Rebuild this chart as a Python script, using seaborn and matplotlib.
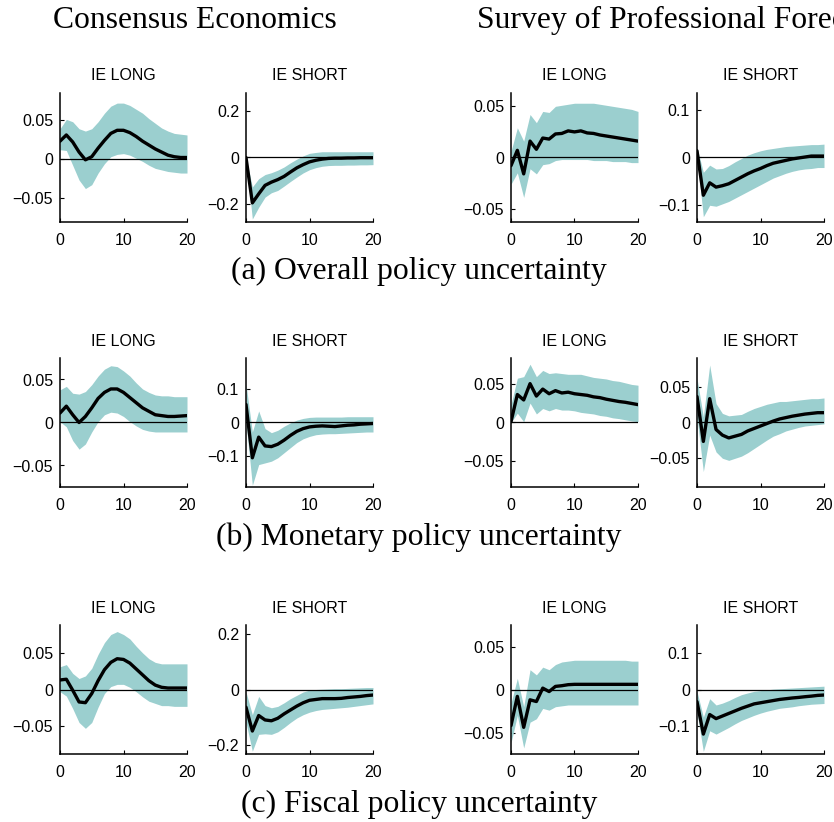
import matplotlib
matplotlib.use("Agg")
import matplotlib.pyplot as plt
import seaborn as sns
import pandas as pd

# ---------------- data ----------------
horizon = list(range(21))
panel_titles = ["IE LONG", "IE SHORT", "IE LONG", "IE SHORT"]
header_labels = ["Consensus Economics", "Survey of Professional Forecasters"]
row_captions = ["(a) Overall policy uncertainty",
                "(b) Monetary policy uncertainty",
                "(c) Fiscal policy uncertainty"]
x_ticks = [0, 10, 20]

# (a) Overall policy uncertainty
a_ce_long_mid = [0.023, 0.031, 0.022, 0.009, -0.001, 0.003, 0.014, 0.024, 0.033, 0.037, 0.037, 0.034, 0.029, 0.023, 0.018, 0.013, 0.009, 0.005, 0.003, 0.002, 0.002]
a_ce_long_hi = [0.039, 0.051, 0.048, 0.039, 0.036, 0.039, 0.048, 0.059, 0.068, 0.072, 0.072, 0.069, 0.064, 0.059, 0.052, 0.046, 0.040, 0.036, 0.033, 0.032, 0.031]
a_ce_long_lo = [0.012, 0.011, -0.008, -0.027, -0.038, -0.033, -0.018, -0.006, 0.003, 0.006, 0.007, 0.005, 0.001, -0.003, -0.008, -0.012, -0.014, -0.016, -0.017, -0.018, -0.018]

a_ce_short_mid = [0.0, -0.197, -0.158, -0.121, -0.107, -0.096, -0.082, -0.063, -0.045, -0.031, -0.019, -0.012, -0.007, -0.004, -0.003, -0.003, -0.002, -0.002, -0.001, -0.001, -0.001]
a_ce_short_hi = [0.0, -0.128, -0.092, -0.074, -0.066, -0.055, -0.041, -0.023, -0.007, 0.007, 0.018, 0.022, 0.025, 0.025, 0.025, 0.025, 0.025, 0.025, 0.025, 0.025, 0.025]
a_ce_short_lo = [-0.004, -0.267, -0.216, -0.172, -0.153, -0.143, -0.124, -0.104, -0.085, -0.067, -0.053, -0.044, -0.038, -0.035, -0.034, -0.034, -0.033, -0.033, -0.032, -0.032, -0.031]

a_spf_long_mid = [-0.008, 0.007, -0.016, 0.016, 0.008, 0.019, 0.018, 0.023, 0.0235, 0.026, 0.025, 0.026, 0.024, 0.0235, 0.022, 0.021, 0.020, 0.019, 0.018, 0.017, 0.016]
a_spf_long_hi = [0.006, 0.029, 0.016, 0.042, 0.034, 0.045, 0.044, 0.050, 0.051, 0.052, 0.053, 0.053, 0.053, 0.053, 0.052, 0.051, 0.050, 0.049, 0.048, 0.047, 0.045]
a_spf_long_lo = [-0.026, -0.015, -0.039, -0.011, -0.016, -0.007, -0.006, -0.003, -0.002, -0.002, -0.002, -0.002, -0.002, -0.003, -0.003, -0.003, -0.004, -0.004, -0.004, -0.005, -0.005]

a_spf_short_mid = [0.014, -0.079, -0.053, -0.062, -0.059, -0.055, -0.048, -0.041, -0.034, -0.028, -0.023, -0.017, -0.012, -0.009, -0.006, -0.003, -0.001, 0.001, 0.003, 0.003, 0.003]
a_spf_short_hi = [0.021, -0.031, -0.016, -0.024, -0.023, -0.017, -0.009, -0.002, 0.005, 0.010, 0.014, 0.017, 0.019, 0.021, 0.023, 0.024, 0.025, 0.026, 0.027, 0.027, 0.028]
a_spf_short_lo = [0.0, -0.124, -0.100, -0.102, -0.097, -0.092, -0.085, -0.078, -0.071, -0.064, -0.057, -0.050, -0.043, -0.038, -0.033, -0.029, -0.026, -0.024, -0.023, -0.021, -0.021]

# (b) Monetary policy uncertainty
b_ce_long_mid = [0.011, 0.019, 0.009, 0.0, 0.007, 0.017, 0.028, 0.035, 0.039, 0.039, 0.035, 0.029, 0.023, 0.017, 0.013, 0.009, 0.008, 0.007, 0.007, 0.0075, 0.008]
b_ce_long_hi = [0.038, 0.042, 0.034, 0.033, 0.036, 0.044, 0.054, 0.062, 0.066, 0.065, 0.060, 0.054, 0.046, 0.039, 0.035, 0.032, 0.031, 0.031, 0.030, 0.030, 0.030]
b_ce_long_lo = [0.001, -0.005, -0.021, -0.031, -0.025, -0.011, 0.001, 0.009, 0.012, 0.011, 0.007, 0.001, -0.004, -0.008, -0.010, -0.011, -0.011, -0.011, -0.011, -0.011, -0.011]

b_ce_short_mid = [0.053, -0.104, -0.043, -0.069, -0.071, -0.064, -0.052, -0.038, -0.026, -0.018, -0.013, -0.011, -0.010, -0.011, -0.012, -0.010, -0.008, -0.007, -0.005, -0.004, -0.003]
b_ce_short_hi = [0.113, -0.028, 0.034, -0.018, -0.030, -0.023, -0.011, -0.001, 0.007, 0.012, 0.015, 0.016, 0.016, 0.016, 0.016, 0.016, 0.017, 0.017, 0.017, 0.017, 0.017]
b_ce_short_lo = [0.002, -0.185, -0.124, -0.119, -0.114, -0.104, -0.089, -0.074, -0.059, -0.048, -0.041, -0.036, -0.034, -0.033, -0.033, -0.032, -0.031, -0.030, -0.029, -0.028, -0.028]

b_spf_long_mid = [0.001, 0.036, 0.029, 0.050, 0.034, 0.043, 0.037, 0.041, 0.038, 0.039, 0.037, 0.036, 0.035, 0.033, 0.032, 0.030, 0.0285, 0.027, 0.026, 0.0245, 0.023]
b_spf_long_hi = [0.023, 0.057, 0.059, 0.075, 0.059, 0.067, 0.063, 0.064, 0.063, 0.062, 0.062, 0.062, 0.060, 0.058, 0.057, 0.056, 0.054, 0.053, 0.051, 0.049, 0.048]
b_spf_long_lo = [0.0, 0.012, 0.001, 0.025, 0.011, 0.018, 0.015, 0.018, 0.016, 0.016, 0.015, 0.013, 0.012, 0.011, 0.009, 0.008, 0.006, 0.005, 0.0035, 0.002, 0.001]

b_spf_short_mid = [0.037, -0.027, 0.034, -0.010, -0.018, -0.022, -0.0195, -0.017, -0.012, -0.0085, -0.005, -0.0015, 0.002, 0.005, 0.007, 0.009, 0.0105, 0.012, 0.013, 0.014, 0.014]
b_spf_short_hi = [0.063, 0.008, 0.082, 0.027, 0.013, 0.0095, 0.0105, 0.0115, 0.016, 0.020, 0.023, 0.026, 0.028, 0.030, 0.030, 0.031, 0.032, 0.033, 0.034, 0.034, 0.035]
b_spf_short_lo = [0.008, -0.070, -0.018, -0.042, -0.051, -0.054, -0.051, -0.048, -0.043, -0.037, -0.031, -0.025, -0.0195, -0.016, -0.012, -0.0095, -0.007, -0.005, -0.004, -0.003, -0.002]

# (c) Fiscal policy uncertainty
c_ce_long_mid = [0.013, 0.014, -0.001, -0.017, -0.018, -0.0055, 0.012, 0.027, 0.037, 0.042, 0.041, 0.036, 0.028, 0.020, 0.012, 0.006, 0.003, 0.002, 0.002, 0.002, 0.002]
c_ce_long_hi = [0.031, 0.034, 0.022, 0.015, 0.0185, 0.029, 0.048, 0.064, 0.075, 0.079, 0.075, 0.069, 0.059, 0.050, 0.042, 0.037, 0.035, 0.035, 0.035, 0.035, 0.035]
c_ce_long_lo = [-0.003, -0.009, -0.026, -0.045, -0.053, -0.045, -0.024, -0.0055, 0.004, 0.007, 0.007, 0.003, -0.003, -0.010, -0.016, -0.019, -0.022, -0.022, -0.023, -0.023, -0.023]

c_ce_short_mid = [-0.064, -0.150, -0.094, -0.110, -0.113, -0.104, -0.088, -0.074, -0.060, -0.048, -0.039, -0.036, -0.033, -0.033, -0.033, -0.032, -0.029, -0.027, -0.025, -0.022, -0.020]
c_ce_short_hi = [-0.009, -0.091, -0.025, -0.058, -0.066, -0.061, -0.048, -0.033, -0.021, -0.009, -0.002, 0.0, 0.001, 0.002, 0.003, 0.003, 0.004, 0.005, 0.006, 0.007, 0.007]
c_ce_short_lo = [-0.119, -0.223, -0.162, -0.160, -0.162, -0.153, -0.137, -0.119, -0.103, -0.091, -0.082, -0.076, -0.072, -0.070, -0.068, -0.066, -0.064, -0.061, -0.058, -0.055, -0.052]

c_spf_long_mid = [-0.042, -0.008, -0.044, -0.012, -0.014, 0.0016, -0.0024, 0.0036, 0.0044, 0.0056, 0.006, 0.006, 0.006, 0.006, 0.006, 0.006, 0.006, 0.006, 0.006, 0.006, 0.006]
c_spf_long_hi = [-0.016, 0.013, -0.020, 0.023, 0.017, 0.026, 0.023, 0.029, 0.032, 0.033, 0.034, 0.034, 0.034, 0.034, 0.034, 0.034, 0.034, 0.034, 0.034, 0.033, 0.033]
c_spf_long_lo = [-0.062, -0.030, -0.068, -0.038, -0.034, -0.022, -0.024, -0.020, -0.019, -0.018, -0.018, -0.018, -0.018, -0.018, -0.018, -0.018, -0.018, -0.018, -0.018, -0.018, -0.018]

c_spf_short_mid = [-0.033, -0.121, -0.068, -0.079, -0.072, -0.065, -0.058, -0.051, -0.045, -0.039, -0.036, -0.033, -0.030, -0.027, -0.025, -0.023, -0.0215, -0.0196, -0.018, -0.016, -0.015]
c_spf_short_hi = [-0.005, -0.075, -0.025, -0.042, -0.037, -0.030, -0.0215, -0.014, -0.0093, -0.005, -0.003, -0.001, 0.001, 0.002, 0.003, 0.004, 0.005, 0.006, 0.007, 0.008, 0.009]
c_spf_short_lo = [-0.061, -0.168, -0.112, -0.121, -0.112, -0.103, -0.093, -0.084, -0.077, -0.070, -0.064, -0.059, -0.055, -0.051, -0.049, -0.047, -0.044, -0.042, -0.040, -0.039, -0.038]

# y-axis ticks per panel
a_yticks = [[-0.05, 0, 0.05], [-0.2, 0, 0.2], [-0.05, 0, 0.05], [-0.1, 0, 0.1]]
b_yticks = [[-0.05, 0, 0.05], [-0.1, 0, 0.1], [-0.05, 0, 0.05], [-0.05, 0, 0.05]]
c_yticks = [[-0.05, 0, 0.05], [-0.2, 0, 0.2], [-0.05, 0, 0.05], [-0.1, 0, 0.1]]

# ---------------- layout / style ----------------
sns.set_style("ticks")
plt.rcParams["font.family"] = ["Liberation Sans", "DejaVu Sans"]
plt.rcParams["text.color"] = "black"
plt.rcParams["axes.labelcolor"] = "black"
plt.rcParams["xtick.color"] = "black"
plt.rcParams["ytick.color"] = "black"

W, H = 834, 822
fig = plt.figure(figsize=(W / 100, H / 100), dpi=100)

BAND = "#9BCFCF"

rows = [
    ([(a_ce_long_mid, a_ce_long_lo, a_ce_long_hi),
      (a_ce_short_mid, a_ce_short_lo, a_ce_short_hi),
      (a_spf_long_mid, a_spf_long_lo, a_spf_long_hi),
      (a_spf_short_mid, a_spf_short_lo, a_spf_short_hi)],
     a_yticks,
     [(-0.081, 0.085), (-0.28, 0.28), (-0.063, 0.063), (-0.135, 0.135)],
     93),
    ([(b_ce_long_mid, b_ce_long_lo, b_ce_long_hi),
      (b_ce_short_mid, b_ce_short_lo, b_ce_short_hi),
      (b_spf_long_mid, b_spf_long_lo, b_spf_long_hi),
      (b_spf_short_mid, b_spf_short_lo, b_spf_short_hi)],
     b_yticks,
     [(-0.075, 0.075), (-0.19, 0.19), (-0.083, 0.083), (-0.092, 0.092)],
     358),
    ([(c_ce_long_mid, c_ce_long_lo, c_ce_long_hi),
      (c_ce_short_mid, c_ce_short_lo, c_ce_short_hi),
      (c_spf_long_mid, c_spf_long_lo, c_spf_long_hi),
      (c_spf_short_mid, c_spf_short_lo, c_spf_short_hi)],
     c_yticks,
     [(-0.088, 0.088), (-0.233, 0.233), (-0.075, 0.075), (-0.175, 0.175)],
     625),
]
lefts = [60, 246, 511, 697]
AW, AH = 127, 129


def fmt(v):
    if v == 0:
        return "0"
    s = f"{v:g}"
    return s.replace("-", "\u2212")


for panels, yticks, ylims, top in rows:
    for j, (mid, lo, hi) in enumerate(panels):
        ax = fig.add_axes([lefts[j] / W, 1 - (top + AH) / H, AW / W, AH / H])
        df = pd.DataFrame({"h": horizon, "mid": mid, "lo": lo, "hi": hi})
        ax.fill_between(df["h"], df["lo"], df["hi"], color=BAND, lw=0, zorder=1)
        ax.axhline(0, color="black", lw=0.9, zorder=2)
        sns.lineplot(data=df, x="h", y="mid", ax=ax, color="black", lw=2.4, zorder=3)
        ax.set_xlim(0, 20)
        ax.set_ylim(*ylims[j])
        ax.set_xticks(x_ticks)
        ax.set_xticklabels([str(t) for t in x_ticks])
        ax.set_yticks(yticks[j])
        ax.set_yticklabels([fmt(v) for v in yticks[j]])
        ax.set_xlabel("")
        ax.set_ylabel("")
        ax.tick_params(direction="in", length=3, width=0.8, labelsize=11.5, colors="black")
        ax.tick_params(axis="x", pad=8)
        ax.tick_params(axis="y", pad=5)
        for s in ("top", "right"):
            ax.spines[s].set_visible(False)
        for s in ("left", "bottom"):
            ax.spines[s].set_color("black")
            ax.spines[s].set_linewidth(1.1)
        ax.set_title(panel_titles[j], fontsize=11.5, pad=9, color="black")

serif = ["Liberation Serif", "DejaVu Serif"]
FS = 22.8
fig.text(195 / W, 1 - 28 / H, header_labels[0], ha="center", va="baseline",
         fontsize=FS, family=serif, color="black")
fig.text(477 / W, 1 - 28 / H, header_labels[1], ha="left", va="baseline",
         fontsize=FS, family=serif, color="black")
for k, yb in enumerate([279, 545, 812]):
    fig.text(419 / W, 1 - yb / H, row_captions[k], ha="center", va="baseline",
             fontsize=FS, family=serif, color="black")

fig.savefig("out.png", dpi=100)
